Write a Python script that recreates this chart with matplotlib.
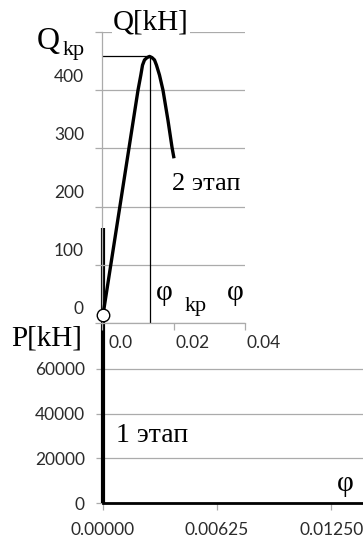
import matplotlib
matplotlib.use("Agg")
import matplotlib.pyplot as plt
from matplotlib.transforms import ScaledTranslation

# stage 2: shear Q [kN] vs rotation angle phi
phi_q = [0.00028, 0.01007, 0.01086, 0.01133, 0.01189, 0.01259, 0.01329,
         0.01399, 0.01468, 0.01524, 0.01608, 0.01706, 0.01846, 0.01958, 0.02014]
q_vals = [14, 400, 426, 443, 452, 456, 458,
          456, 452, 443, 426, 400, 348, 302, 283]
phi_kp = 0.0133
q_kp = 458

# stage 1: axial force P [kN] at zero rotation
phi_p = [0.0, 0.0]
p_vals = [0, 123000]

q_yticks = [0, 100, 200, 300, 400, 500]
q_ylabels = ["0", "100", "200", "300", "400", ""]
q_xticks = [0.0, 0.02, 0.04]
q_xlabels = ["0.0", "0.02", "0.04"]
p_yticks = [0, 20000, 40000, 60000]
p_xticks = [0.0, 0.00625, 0.0125]

W, H = 363, 539
GRID = "#ababab"
TICK = "#2b2b2b"
SERIF = "Liberation Serif"
SANS = "Lato"
TSIZE = 12.5


def fx(x):
    return x / W


def fy(y):
    return 1 - y / H


fig = plt.figure(figsize=(W / 100, H / 100), dpi=100)
fig.patch.set_facecolor("white")

# lower chart: P vs phi
ax_p = fig.add_axes([fx(103), fy(503), fx(363 - 103) + 0.01, (503 - 346.5) / H])
ax_p.set_xlim(0, 0.01444)
ax_p.set_ylim(0, 70000)
ax_p.plot(phi_p, p_vals, color="black", lw=3.0, clip_on=False, solid_capstyle="butt", zorder=3)
ax_p.set_yticks(p_yticks)
ax_p.set_xticks(p_xticks)
ax_p.set_yticklabels([str(v) for v in p_yticks])
ax_p.set_xticklabels(["%.5f" % v for v in p_xticks])
ax_p.yaxis.grid(True, color=GRID, lw=0.9)
ax_p.set_axisbelow(True)
for s in ["top", "right", "left"]:
    ax_p.spines[s].set_visible(False)
ax_p.spines["bottom"].set_color("black")
ax_p.spines["bottom"].set_linewidth(2.0)
ax_p.tick_params(axis="both", colors=GRID, length=5, width=0.9, labelcolor=TICK, labelsize=TSIZE)
ax_p.tick_params(axis="y", pad=8)
ax_p.tick_params(axis="x", pad=9)
for lab in ax_p.get_xticklabels() + ax_p.get_yticklabels():
    lab.set_fontfamily(SANS)

# upper chart: Q vs phi
ax_q = fig.add_axes([fx(102), fy(323), 143 / W, 291 / H])
ax_q.patch.set_alpha(0)
ax_q.set_xlim(0, 0.04)
ax_q.set_ylim(0, 500)
ax_q.plot(phi_q, q_vals, color="black", lw=2.4, solid_capstyle="butt",
          solid_joinstyle="round", zorder=3)
ax_q.plot([0, phi_kp], [q_kp, q_kp], color="black", lw=0.9, zorder=2)
ax_q.plot([phi_kp, phi_kp], [0, q_kp], color="black", lw=0.9, zorder=2)
ax_q.plot(phi_q[:1], q_vals[:1], marker="o", ms=9, mfc="white", mec="black", mew=1.0,
          clip_on=False, zorder=4)
ax_q.set_yticks(q_yticks)
ax_q.set_yticklabels(q_ylabels)
ax_q.set_xticks(q_xticks)
ax_q.set_xticklabels(q_xlabels)
ax_q.yaxis.grid(True, color=GRID, lw=0.9)
ax_q.set_axisbelow(True)
for s in ["top", "right"]:
    ax_q.spines[s].set_visible(False)
for s in ["left", "bottom"]:
    ax_q.spines[s].set_color(GRID)
    ax_q.spines[s].set_linewidth(0.9)
ax_q.tick_params(axis="both", colors=GRID, length=5, width=0.9, labelcolor=TICK, labelsize=TSIZE)
ax_q.tick_params(axis="y", pad=8)
ax_q.tick_params(axis="x", pad=4)

up = ScaledTranslation(0, 15 / 100, fig.dpi_scale_trans)
right = ScaledTranslation(19 / 100, 0, fig.dpi_scale_trans)
for lab in ax_q.get_yticklabels():
    lab.set_transform(lab.get_transform() + up)
    lab.set_fontfamily(SANS)
for lab in ax_q.get_xticklabels():
    lab.set_transform(lab.get_transform() + right)
    lab.set_fontfamily(SANS)

# axis captions and stage labels
white = dict(facecolor="white", edgecolor="none", pad=1)
fig.text(fx(113), fy(30), "Q[kH]", family=SERIF, fontsize=21, va="baseline", bbox=white)
fig.text(fx(37), fy(49), "Q", family=SERIF, fontsize=23, va="baseline")
fig.text(fx(63), fy(55), "kp", family=SERIF, fontsize=16, va="baseline")
fig.text(fx(172), fy(190), "2 этап", family=SERIF, fontsize=19, va="baseline")
fig.text(fx(156), fy(300), "φ", family=SERIF, fontsize=21, va="baseline")
fig.text(fx(185), fy(311), "kp", family=SERIF, fontsize=16, va="baseline")
fig.text(fx(227), fy(300), "φ", family=SERIF, fontsize=21, va="baseline")
fig.text(fx(11), fy(345), "P[kH]", family=SERIF, fontsize=21, va="baseline")
fig.text(fx(116), fy(442), "1 этап", family=SERIF, fontsize=20, va="baseline")
fig.text(fx(337), fy(491), "φ", family=SERIF, fontsize=21, va="baseline")

fig.savefig("out.png", dpi=100)
